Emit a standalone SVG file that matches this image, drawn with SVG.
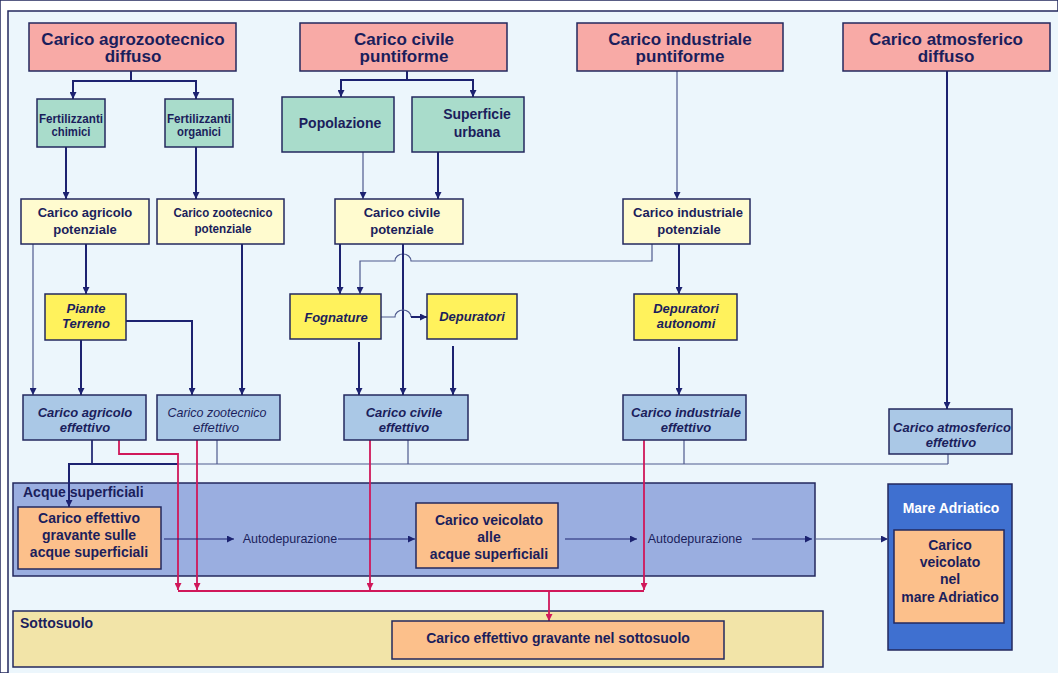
<svg xmlns="http://www.w3.org/2000/svg" width="1058" height="673" viewBox="0 0 1058 673">
  <defs>
    <marker id="arr" viewBox="0 0 10 10" refX="10" refY="5" markerWidth="8" markerHeight="7" markerUnits="userSpaceOnUse" orient="auto">
      <path d="M0,0 L10,5 L0,10 z" fill="#1c2270"/>
    </marker>
    <marker id="arrRed" viewBox="0 0 10 10" refX="10" refY="5" markerWidth="8" markerHeight="7" markerUnits="userSpaceOnUse" orient="auto">
      <path d="M0,0 L10,5 L0,10 z" fill="#d0185a"/>
    </marker>
    <style>
      text { font-family: "Liberation Sans", Arial, sans-serif; fill: #1b1e5c; text-anchor: middle; }
      .t17 { font-size: 17px; font-weight: bold; }
      .t14 { font-size: 14px; font-weight: bold; }
      .t13 { font-size: 13px; font-weight: bold; }
      .i13 { font-size: 13px; font-weight: bold; font-style: italic; }
      .n13 { font-size: 13.5px; font-weight: bold; }
      .ni13 { font-size: 13.5px; font-style: italic; }
      .r12 { font-size: 12.5px; }
      .lbl { text-anchor: start; }
      rect { stroke: #23285e; stroke-width: 1.5; }
      .src { fill: #f8aaa6; }
      .grn { fill: #a9dccb; }
      .pot { fill: #fffbcf; }
      .plant { fill: #fff25c; }
      .eff { fill: #aac8e6; }
      .org { fill: #fcc08b; }
      .ln { fill: none; stroke: #1c2270; stroke-width: 2; }
      .thin { fill: none; stroke: #4f5a8e; stroke-width: 1.2; }
      .dk { stroke: #1c2270; }
      .red { fill: none; stroke: #d0185a; stroke-width: 1.8; }
    </style>
  </defs>

  <!-- page and frame -->
  <rect x="0" y="0" width="1058" height="673" fill="#ffffff" stroke="none"/>
  <rect x="8" y="11" width="1060" height="680" fill="#ecf6fc" stroke="#111111" stroke-width="2"/>

  <!-- receiving environments -->
  <g id="acque-superficiali">
    <rect x="13" y="483" width="802" height="93" fill="#9aaee0" stroke="#7d90cf" stroke-width="1"/>
    <text class="t14 lbl" x="23" y="497">Acque superficiali</text>
  </g>
  <g id="sottosuolo">
    <rect x="13" y="611" width="810" height="56" fill="#f2e4a8"/>
    <text class="t14 lbl" x="20" y="628">Sottosuolo</text>
  </g>
  <g id="mare-adriatico">
    <rect x="888" y="484" width="124" height="166" fill="#3f70d0"/>
    <text class="t14" x="951" y="513" style="fill:#ffffff">Mare Adriatico</text>
  </g>

  <!-- connectors -->
  <g id="connectors">
    <path class="ln" d="M131,71 V81 H73 V99" marker-end="url(#arr)"/>
    <path class="ln" d="M131,81 H196 V99" marker-end="url(#arr)"/>
    <path class="ln" d="M66,147 V199" marker-end="url(#arr)"/>
    <path class="ln" d="M196,147 V199" marker-end="url(#arr)"/>

    <path class="ln" d="M407,71 V80 H341 V97" marker-end="url(#arr)"/>
    <path class="ln" d="M407,80 H473 V97" marker-end="url(#arr)"/>
    <path class="thin" d="M363,152 V199" marker-end="url(#arr)"/>
    <path class="ln" d="M438,152 V199" marker-end="url(#arr)"/>

    <path class="thin" d="M677,71 V199" marker-end="url(#arr)"/>
    <path class="ln" d="M947,71 V409" marker-end="url(#arr)"/>

    <path class="thin" d="M33,244 V395" marker-end="url(#arr)"/>
    <path class="ln" d="M86,244 V294" marker-end="url(#arr)"/>
    <path class="ln" d="M81,340 V395" marker-end="url(#arr)"/>
    <path class="ln" d="M126,321 H192 V395" marker-end="url(#arr)"/>
    <path class="ln" d="M242,244 V395" marker-end="url(#arr)"/>

    <path class="ln" d="M340,244 V294" marker-end="url(#arr)"/>
    <path class="thin" d="M652,244 V261 H411 A8,7 0 0 0 395,261 H360 V294" marker-end="url(#arr)"/>
    <path class="ln" d="M403,244 V395" marker-end="url(#arr)"/>
    <path class="thin" d="M381,317 H395 A8,7 0 0 1 411,317"/>
    <path class="ln" d="M411,317 H427" marker-end="url(#arr)"/>
    <path class="ln" d="M359,342 V395" marker-end="url(#arr)"/>
    <path class="ln" d="M453,346 V395" marker-end="url(#arr)"/>

    <path class="ln" d="M679,244 V294" marker-end="url(#arr)"/>
    <path class="ln" d="M679,347 V395" marker-end="url(#arr)"/>

    <!-- collector towards surface waters -->
    <path class="thin" d="M92,440 V464 M217,440 V464 M408,440 V464 M684,440 V464 M948,454 V464 M178,464 H948"/>
    <path class="ln" d="M178,464 H69 V507" marker-end="url(#arr)"/>
    <path class="ln" d="M92,440 V464" style="stroke-width:1.5"/>

    <!-- infiltration towards the subsoil -->
    <path class="red" d="M119,440 V454 H178 V590" marker-end="url(#arrRed)"/>
    <path class="red" d="M197,440 V590" marker-end="url(#arrRed)"/>
    <path class="red" d="M370,440 V590" marker-end="url(#arrRed)"/>
    <path class="red" d="M644,440 V590" marker-end="url(#arrRed)"/>
    <path class="red" d="M178,591 H644"/>
    <path class="red" d="M549,591 V621" marker-end="url(#arrRed)"/>

    <!-- self-purification chain -->
    <path class="thin dk" d="M164,539 H234" marker-end="url(#arr)"/>
    <path class="thin dk" d="M338,539 H415" marker-end="url(#arr)"/>
    <path class="thin dk" d="M565,539 H637" marker-end="url(#arr)"/>
    <path class="thin dk" d="M752,539 H812" marker-end="url(#arr)"/>
    <path class="thin" d="M816,539 H888" marker-end="url(#arr)"/>
    <text class="r12" x="290" y="543">Autodepurazione</text>
    <text class="r12" x="695" y="543">Autodepurazione</text>
  </g>

  <!-- sources -->
  <g id="carico-agrozootecnico">
    <rect class="src" x="29" y="23" width="207" height="48"/>
    <text class="t17" x="133" y="45">Carico agrozootecnico</text>
    <text class="t17" x="133" y="62">diffuso</text>
  </g>
  <g id="carico-civile">
    <rect class="src" x="300" y="23" width="207" height="48"/>
    <text class="t17" x="404" y="45">Carico civile</text>
    <text class="t17" x="404" y="62">puntiforme</text>
  </g>
  <g id="carico-industriale">
    <rect class="src" x="577" y="23" width="206" height="48"/>
    <text class="t17" x="680" y="45">Carico industriale</text>
    <text class="t17" x="680" y="62">puntiforme</text>
  </g>
  <g id="carico-atmosferico">
    <rect class="src" x="843" y="23" width="207" height="48"/>
    <text class="t17" x="946" y="45">Carico atmosferico</text>
    <text class="t17" x="946" y="62">diffuso</text>
  </g>

  <!-- drivers -->
  <g id="fertilizzanti-chimici">
    <rect class="grn" x="37" y="99" width="68" height="48"/>
    <text class="n13" x="71" y="123" textLength="64" lengthAdjust="spacingAndGlyphs">Fertilizzanti</text>
    <text class="n13" x="71" y="136" textLength="39" lengthAdjust="spacingAndGlyphs">chimici</text>
  </g>
  <g id="fertilizzanti-organici">
    <rect class="grn" x="165" y="99" width="68" height="48"/>
    <text class="n13" x="199" y="123" textLength="64" lengthAdjust="spacingAndGlyphs">Fertilizzanti</text>
    <text class="n13" x="199" y="136" textLength="44" lengthAdjust="spacingAndGlyphs">organici</text>
  </g>
  <g id="popolazione">
    <rect class="grn" x="282" y="97" width="112" height="55"/>
    <text class="t14" x="340" y="128">Popolazione</text>
  </g>
  <g id="superficie-urbana">
    <rect class="grn" x="412" y="97" width="112" height="55"/>
    <text class="t14" x="477" y="119">Superficie</text>
    <text class="t14" x="477" y="137">urbana</text>
  </g>

  <!-- potential loads -->
  <g id="carico-agricolo-potenziale">
    <rect class="pot" x="21" y="199" width="128" height="45"/>
    <text class="t13" x="85" y="217">Carico agricolo</text>
    <text class="t13" x="85" y="234">potenziale</text>
  </g>
  <g id="carico-zootecnico-potenziale">
    <rect class="pot" x="157" y="199" width="127" height="45"/>
    <text class="n13" x="223" y="217" textLength="99" lengthAdjust="spacingAndGlyphs">Carico zootecnico</text>
    <text class="n13" x="223" y="233" textLength="57" lengthAdjust="spacingAndGlyphs">potenziale</text>
  </g>
  <g id="carico-civile-potenziale">
    <rect class="pot" x="335" y="199" width="128" height="45"/>
    <text class="t13" x="402" y="217">Carico civile</text>
    <text class="t13" x="402" y="234">potenziale</text>
  </g>
  <g id="carico-industriale-potenziale">
    <rect class="pot" x="623" y="199" width="127" height="45"/>
    <text class="t13" x="688" y="217">Carico industriale</text>
    <text class="t13" x="689" y="234">potenziale</text>
  </g>

  <!-- abatement -->
  <g id="piante-terreno">
    <rect class="plant" x="45" y="294" width="81" height="46"/>
    <text class="i13" x="86" y="313">Piante</text>
    <text class="i13" x="86" y="328">Terreno</text>
  </g>
  <g id="fognature">
    <rect class="plant" x="290" y="294" width="91" height="45"/>
    <text class="i13" x="336" y="322">Fognature</text>
  </g>
  <g id="depuratori">
    <rect class="plant" x="427" y="294" width="90" height="45"/>
    <text class="i13" x="472" y="321">Depuratori</text>
  </g>
  <g id="depuratori-autonomi">
    <rect class="plant" x="634" y="294" width="103" height="46"/>
    <text class="i13" x="686" y="313">Depuratori</text>
    <text class="i13" x="686" y="328">autonomi</text>
  </g>

  <!-- effective loads -->
  <g id="carico-agricolo-effettivo">
    <rect class="eff" x="23" y="395" width="123" height="45"/>
    <text class="i13" x="85" y="417">Carico agricolo</text>
    <text class="i13" x="85" y="432">effettivo</text>
  </g>
  <g id="carico-zootecnico-effettivo">
    <rect class="eff" x="157" y="395" width="123" height="45"/>
    <text class="ni13" x="217" y="417" textLength="99" lengthAdjust="spacingAndGlyphs">Carico zootecnico</text>
    <text class="ni13" x="216" y="432" textLength="46" lengthAdjust="spacingAndGlyphs">effettivo</text>
  </g>
  <g id="carico-civile-effettivo">
    <rect class="eff" x="344" y="395" width="124" height="45"/>
    <text class="i13" x="404" y="417">Carico civile</text>
    <text class="i13" x="404" y="432">effettivo</text>
  </g>
  <g id="carico-industriale-effettivo">
    <rect class="eff" x="623" y="395" width="123" height="45"/>
    <text class="i13" x="686" y="417">Carico industriale</text>
    <text class="i13" x="686" y="432">effettivo</text>
  </g>
  <g id="carico-atmosferico-effettivo">
    <rect class="eff" x="889" y="409" width="123" height="45"/>
    <text class="i13" x="952" y="432">Carico atmosferico</text>
    <text class="i13" x="951" y="447">effettivo</text>
  </g>

  <!-- loads on receiving bodies -->
  <g id="carico-acque-superficiali">
    <rect class="org" x="18" y="507" width="143" height="62"/>
    <text class="t14" x="89" y="523">Carico effettivo</text>
    <text class="t14" x="89" y="540">gravante sulle</text>
    <text class="t14" x="89" y="557">acque superficiali</text>
  </g>
  <g id="carico-veicolato-acque">
    <rect class="org" x="416" y="503" width="142" height="65"/>
    <text class="t14" x="489" y="525">Carico veicolato</text>
    <text class="t14" x="489" y="542">alle</text>
    <text class="t14" x="489" y="559">acque superficiali</text>
  </g>
  <g id="carico-sottosuolo">
    <rect class="org" x="392" y="621" width="332" height="38"/>
    <text class="t14" x="558" y="643">Carico effettivo gravante nel sottosuolo</text>
  </g>
  <g id="carico-mare">
    <rect class="org" x="894" y="530" width="110" height="93"/>
    <text class="t14" x="950" y="550">Carico</text>
    <text class="t14" x="950" y="567">veicolato</text>
    <text class="t14" x="950" y="584">nel</text>
    <text class="t14" x="950" y="602">mare Adriatico</text>
  </g>
</svg>
